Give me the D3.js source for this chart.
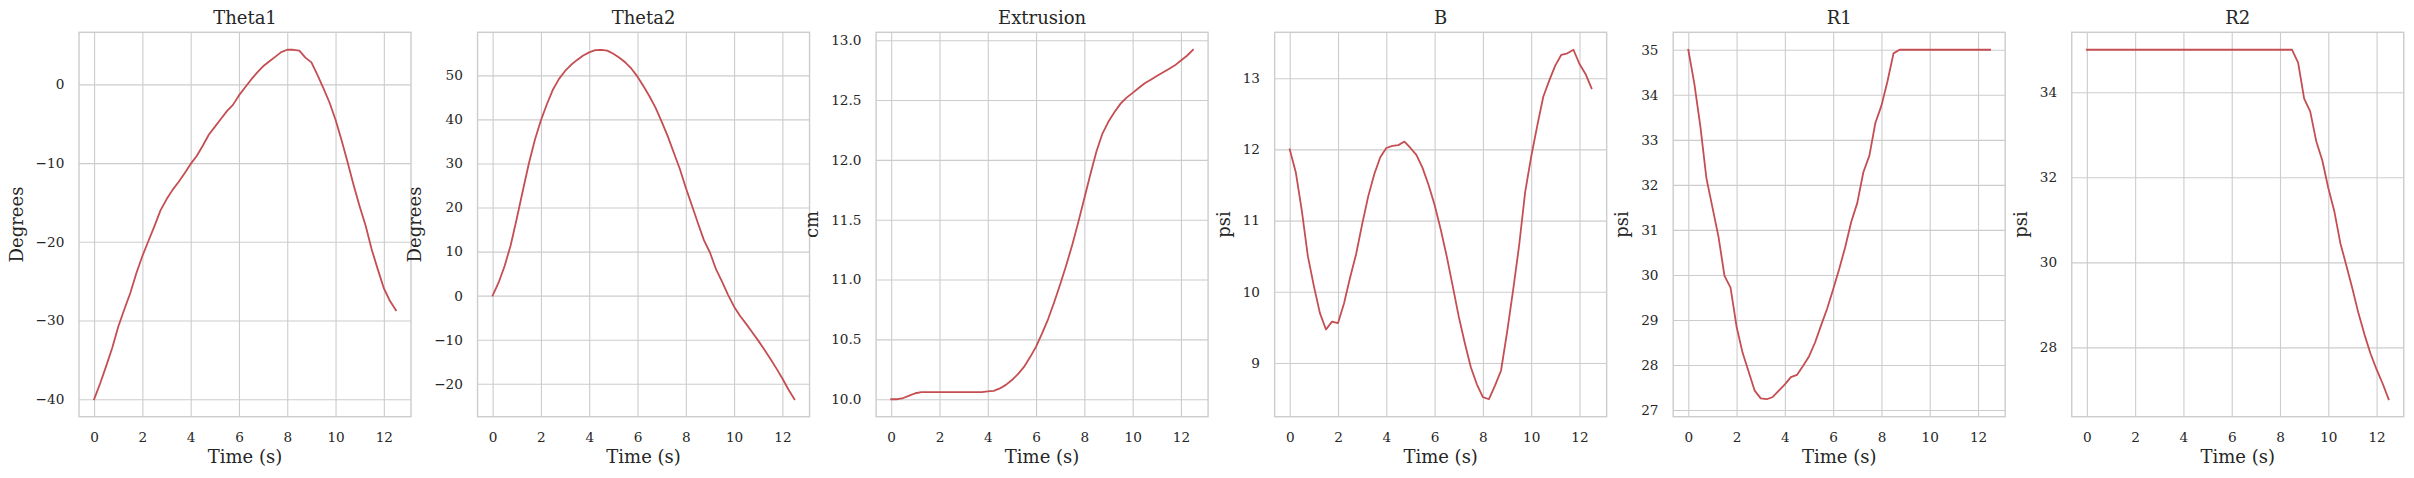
<!DOCTYPE html>
<html>
<head>
<meta charset="utf-8">
<script src="https://cdn.jsdelivr.net/npm/d3@7"></script>
<style>
  html, body { margin: 0; padding: 0; background: #fff; }
  svg { display: block; font-family: "DejaVu Serif", serif; }
</style>
</head>
<body>
<svg id="chart" width="2414" height="478"></svg>
<script>
// sample times (s)
var time = [0, 0.25, 0.5, 0.75, 1, 1.25, 1.5, 1.75, 2, 2.25, 2.5, 2.75, 3, 3.25, 3.5, 3.75,
  4, 4.25, 4.5, 4.75, 5, 5.25, 5.5, 5.75, 6, 6.25, 6.5, 6.75, 7, 7.25, 7.5, 7.75,
  8, 8.25, 8.5, 8.75, 9, 9.25, 9.5, 9.75, 10, 10.25, 10.5, 10.75, 11, 11.25, 11.5, 11.75,
  12, 12.25, 12.5];

var theta1 = [-40, -38.0, -35.8, -33.5, -30.8, -28.6, -26.5, -24.0, -21.8, -19.9, -18.0, -16.0,
  -14.6, -13.4, -12.4, -11.3, -10.1, -9.1, -7.8, -6.4, -5.4, -4.4, -3.4, -2.6,
  -1.4, -0.4, 0.6, 1.5, 2.3, 2.9, 3.5, 4.1, 4.4, 4.4, 4.3, 3.4,
  2.8, 1.2, -0.5, -2.3, -4.5, -7.1, -9.9, -12.8, -15.5, -18.0, -21.0, -23.5,
  -25.9, -27.5, -28.7];

var theta2 = [0, 3.0, 6.8, 11.5, 17.5, 23.8, 30.0, 35.4, 39.8, 43.5, 46.8, 49.2,
  51.0, 52.4, 53.5, 54.5, 55.2, 55.7, 55.8, 55.6, 54.9, 54.0, 52.9, 51.5,
  49.7, 47.5, 45.2, 42.6, 39.5, 36.2, 32.5, 28.8, 24.5, 20.5, 16.5, 12.6,
  9.8, 6.0, 3.2, 0.2, -2.5, -4.6, -6.4, -8.3, -10.2, -12.2, -14.3, -16.5,
  -18.8, -21.3, -23.5];

var extrusion = [10.00, 10.00, 10.01, 10.03, 10.05, 10.06, 10.06, 10.06, 10.06, 10.06, 10.06, 10.06,
  10.06, 10.06, 10.06, 10.06, 10.065, 10.07, 10.09, 10.12, 10.16, 10.21, 10.27, 10.35,
  10.44, 10.55, 10.67, 10.81, 10.96, 11.12, 11.29, 11.48, 11.68, 11.88, 12.07, 12.22,
  12.32, 12.40, 12.47, 12.52, 12.56, 12.60, 12.64, 12.67, 12.70, 12.73, 12.76, 12.79,
  12.83, 12.87, 12.92];

var bPressure = [12.00, 11.68, 11.14, 10.50, 10.08, 9.70, 9.47, 9.58, 9.56, 9.84, 10.20, 10.53,
  10.95, 11.34, 11.65, 11.89, 12.02, 12.05, 12.06, 12.11, 12.02, 11.92, 11.74, 11.50,
  11.22, 10.88, 10.50, 10.08, 9.65, 9.28, 8.94, 8.70, 8.52, 8.49, 8.68, 8.89,
  9.43, 10.02, 10.65, 11.40, 11.90, 12.33, 12.74, 12.97, 13.18, 13.33, 13.35, 13.40,
  13.20, 13.06, 12.86];

var r1 = [35.00, 34.25, 33.30, 32.15, 31.50, 30.85, 29.98, 29.72, 28.85, 28.27, 27.85, 27.43,
  27.26, 27.24, 27.29, 27.43, 27.57, 27.73, 27.78, 27.98, 28.19, 28.50, 28.88, 29.25,
  29.68, 30.13, 30.62, 31.18, 31.60, 32.28, 32.65, 33.38, 33.76, 34.30, 34.92, 35.00,
  35.00, 35.00, 35.00, 35.00, 35.00, 35.00, 35.00, 35.00, 35.00, 35.00, 35.00, 35.00,
  35.00, 35.00, 35.00];

var r2 = [35, 35, 35, 35, 35, 35, 35, 35, 35, 35, 35, 35,
  35, 35, 35, 35, 35, 35, 35, 35, 35, 35, 35, 35,
  35, 35, 35, 35, 35, 35, 35, 35, 35, 35, 35, 34.70,
  33.85, 33.55, 32.85, 32.40, 31.75, 31.20, 30.45, 29.92, 29.38, 28.80, 28.30, 27.85,
  27.48, 27.15, 26.78];

var titles = ["Theta1", "Theta2", "Extrusion", "B", "R1", "R2"];
var units = ["Degrees", "Degrees", "cm", "psi", "psi", "psi"];
var xTicks = [0, 2, 4, 6, 8, 10, 12];
var yTicks = [
  [-40, -30, -20, -10, 0],
  [-20, -10, 0, 10, 20, 30, 40, 50],
  [10.0, 10.5, 11.0, 11.5, 12.0, 12.5, 13.0],
  [9, 10, 11, 12, 13],
  [27, 28, 29, 30, 31, 32, 33, 34, 35],
  [28, 30, 32, 34]
];
var yFormats = ["d", "d", ".1f", "d", "d", "d"];

var series = [theta1, theta2, extrusion, bPressure, r1, r2];

(function () {
  // layout
  var left0 = 79, step = 398.55, topY = 32.3;
  var w = 332, h = 384.4;
  var textColor = "#262626", gridColor = "#cccccc", lineColor = "#c44e52";

  var svg = d3.select("#chart");

  series.forEach(function (values, i) {
    var g = svg.append("g")
      .attr("transform", "translate(" + (left0 + i * step) + "," + topY + ")");

    var x = d3.scaleLinear().domain([-0.625, 13.125]).range([0, w]);
    var ext = d3.extent(values);
    var pad = (ext[1] - ext[0]) * 0.05;
    var y = d3.scaleLinear().domain([ext[0] - pad, ext[1] + pad]).range([h, 0]);

    var xAxis = g.append("g")
      .attr("transform", "translate(0," + h + ")")
      .call(d3.axisBottom(x).tickValues(xTicks).tickSize(-h).tickPadding(15.8).tickFormat(d3.format("d")));

    var yAxis = g.append("g")
      .call(d3.axisLeft(y).tickValues(yTicks[i]).tickSize(-w).tickPadding(14.7).tickFormat(d3.format(yFormats[i])));

    [xAxis, yAxis].forEach(function (a) {
      a.select(".domain").remove();
      a.selectAll(".tick line").attr("stroke", gridColor).attr("stroke-width", 1.1);
      a.selectAll(".tick text")
        .attr("fill", textColor)
        .style("font-family", "'DejaVu Serif', serif")
        .style("font-size", "13.6px");
    });

    var line = d3.line()
      .x(function (d, k) { return x(time[k]); })
      .y(function (d) { return y(d); });

    g.append("path")
      .datum(values)
      .attr("fill", "none")
      .attr("stroke", lineColor)
      .attr("stroke-width", 1.8)
      .attr("stroke-linejoin", "round")
      .attr("stroke-linecap", "square")
      .attr("d", line);

    g.append("rect")
      .attr("width", w)
      .attr("height", h)
      .attr("fill", "none")
      .attr("stroke", gridColor)
      .attr("stroke-width", 1.4);

    g.append("text")
      .attr("x", w / 2)
      .attr("y", -8.3)
      .attr("text-anchor", "middle")
      .attr("fill", textColor)
      .style("font-size", "18px")
      .text(titles[i]);

    g.append("text")
      .attr("x", w / 2)
      .attr("y", h + 46.6)
      .attr("text-anchor", "middle")
      .attr("fill", textColor)
      .style("font-size", "18px")
      .text("Time (s)");

    var maxW = 0;
    yAxis.selectAll(".tick text").each(function () {
      maxW = Math.max(maxW, this.getBBox().width);
    });

    g.append("text")
      .attr("transform", "translate(" + (-(14.7 + maxW + 13)) + "," + (h / 2) + ") rotate(-90)")
      .attr("text-anchor", "middle")
      .attr("fill", textColor)
      .style("font-size", "18px")
      .text(units[i]);
  });
})();
</script>
</body>
</html>
